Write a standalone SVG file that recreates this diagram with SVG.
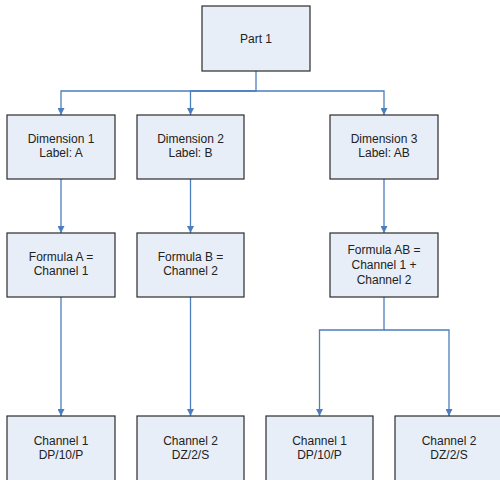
<svg xmlns="http://www.w3.org/2000/svg" width="500" height="480" viewBox="0 0 500 480">
<style>
.box{fill:#e8eef8;stroke:#2b2b2b;stroke-width:1.2}
.t{font-family:"Liberation Sans",Arial,sans-serif;font-size:12px;fill:#222;text-anchor:middle}
.c{fill:none;stroke:#4a7ebf;stroke-width:1.3}
</style>
<defs>
<marker id="ah" viewBox="0 0 10 10" refX="10" refY="5" markerWidth="7" markerHeight="7" markerUnits="userSpaceOnUse" orient="auto">
<path d="M0,0 L10,5 L0,10 z" fill="#4a7ebf"/>
</marker>
</defs>
<rect width="500" height="480" fill="#fff"/>
<g id="connectors">
<path class="c" d="M256,71 V91 H61 V115" marker-end="url(#ah)"/>
<path class="c" d="M256,91 H190.5 V115" marker-end="url(#ah)"/>
<path class="c" d="M256,91 H384 V115" marker-end="url(#ah)"/>
<path class="c" d="M61,179 V233" marker-end="url(#ah)"/>
<path class="c" d="M190.5,179 V233" marker-end="url(#ah)"/>
<path class="c" d="M384,179 V233" marker-end="url(#ah)"/>
<path class="c" d="M61,297 V416" marker-end="url(#ah)"/>
<path class="c" d="M190.5,297 V416" marker-end="url(#ah)"/>
<path class="c" d="M384,297 V330 H319.5 V416" marker-end="url(#ah)"/>
<path class="c" d="M384,330 H449 V416" marker-end="url(#ah)"/>
</g>
<g id="part1"><rect class="box" x="202" y="6" width="108" height="65"/><text class="t" x="256" y="43">Part 1</text></g>
<g id="dim1"><rect class="box" x="7" y="115" width="108" height="64"/><text class="t" x="61" y="143">Dimension 1</text><text class="t" x="61" y="157">Label: A</text></g>
<g id="dim2"><rect class="box" x="137" y="115" width="107" height="64"/><text class="t" x="190.5" y="143">Dimension 2</text><text class="t" x="190.5" y="157">Label: B</text></g>
<g id="dim3"><rect class="box" x="330" y="115" width="108" height="64"/><text class="t" x="384" y="143">Dimension 3</text><text class="t" x="384" y="157">Label: AB</text></g>
<g id="formA"><rect class="box" x="7" y="233" width="108" height="64"/><text class="t" x="61" y="261">Formula A =</text><text class="t" x="61" y="275">Channel 1</text></g>
<g id="formB"><rect class="box" x="137" y="233" width="107" height="64"/><text class="t" x="190.5" y="261">Formula B =</text><text class="t" x="190.5" y="275">Channel 2</text></g>
<g id="formAB"><rect class="box" x="330" y="233" width="108" height="64"/><text class="t" x="384" y="254">Formula AB =</text><text class="t" x="384" y="269">Channel 1 +</text><text class="t" x="384" y="284">Channel 2</text></g>
<g id="ch1a"><rect class="box" x="7" y="416" width="108" height="70"/><text class="t" x="61" y="445">Channel 1</text><text class="t" x="61" y="459">DP/10/P</text></g>
<g id="ch2a"><rect class="box" x="137" y="416" width="107" height="70"/><text class="t" x="190.5" y="445">Channel 2</text><text class="t" x="190.5" y="459">DZ/2/S</text></g>
<g id="ch1b"><rect class="box" x="266" y="416" width="107" height="70"/><text class="t" x="319.5" y="445">Channel 1</text><text class="t" x="319.5" y="459">DP/10/P</text></g>
<g id="ch2b"><rect class="box" x="395" y="416" width="108" height="70"/><text class="t" x="449" y="445">Channel 2</text><text class="t" x="449" y="459">DZ/2/S</text></g>
</svg>
